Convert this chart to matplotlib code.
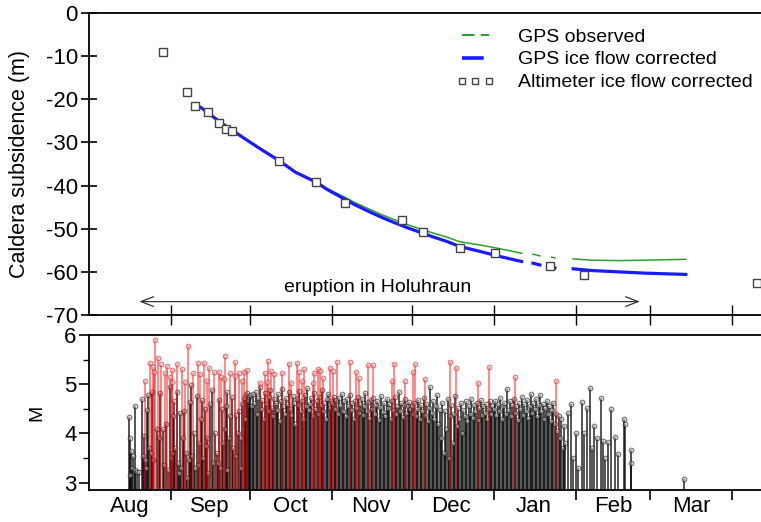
#!/usr/bin/env python3
"""
Caldera subsidence and earthquake magnitudes, Aug 2014 - Mar 2015.

Top: GPS / altimeter subsidence. Bottom: earthquake magnitudes as stems.
Days are counted from 1 Aug 2014.
"""

import matplotlib

matplotlib.use("Agg")
import matplotlib.pyplot as plt
import numpy as np
from matplotlib.lines import Line2D

plt.rcParams["font.family"] = ["Liberation Sans", "DejaVu Sans"]
plt.rcParams["axes.unicode_minus"] = False

nan = np.nan

# ---- subsidence (days since 1 Aug 2014) ----
alt_days = [28.1, 37.0, 40.1, 44.9, 49.0, 51.9, 53.9, 71.8, 85.8, 96.8,
            118.4, 126.3, 140.2, 153.4, 174.2, 187.2, 252.6]
alt_subs = [-9.0, -18.2, -21.5, -23.0, -25.4, -26.8, -27.4, -34.3, -39.2, -44.1,
            -48.0, -50.8, -54.5, -55.7, -58.6, -60.7, -62.5]

gps_days = [42.3, 50, 60, 65, 71.8, 78, 85.8, 90, 95, 100, 105, 110, 115, 120,
            125, 130, 135, 140, 148, 155, 163.5, nan, 167.8, 170.4, nan,
            174.9, 176.1, nan, 183, 190, 200, 210, 225.6]
gps_corrected = [-21.9, -25.5, -29.6, -31.6, -34.2, -36.9, -39.2, -40.9, -42.6,
                 -44.3, -45.8, -47.2, -48.5, -49.7, -50.8, -51.9, -52.9, -54.1,
                 -55.3, -56.4, -57.6, nan, -58.0, -58.4, nan, -58.9, -59.1, nan,
                 -59.3, -59.7, -60.0, -60.3, -60.6]
gps_observed = [-21.9, -25.5, -29.6, -31.6, -34.2, -36.9, -39.1, -40.7, -42.2,
                -43.8, -45.2, -46.6, -47.8, -49.0, -50.0, -51.0, -51.9, -53.0,
                -53.8, -54.6, -55.7, nan, -55.9, -56.3, nan, -56.6, -56.8, nan,
                -57.0, -57.3, -57.4, -57.3, -57.1]

eruption_start, eruption_end = 19.0, 208.2

# ---- earthquakes ----
aug_sep_days = [15.0, 15.3, 15.6, 16.0, 16.3, 16.7, 17.2, 17.5, 18.3, 18.8, 19.9,
                20.3, 20.7, 21.3, 21.6, 22.0, 22.4, 22.8, 23.3, 23.8, 24.2, 25.6,
                26.5, 27.0, 27.9, 28.3, 29.0, 29.8, 30.6, 31.0, 31.3, 31.6, 32.2,
                32.6, 33.1, 33.7, 34.0, 34.3, 34.8, 35.5, 36.0, 36.8, 37.2, 37.7,
                38.0, 38.4, 39.0, 39.6, 40.2, 40.9, 41.2, 41.5, 42.2, 42.6, 43.1,
                43.8, 44.3, 44.6, 45.0, 45.8, 46.4, 46.9, 47.6, 48.2, 48.7, 49.0,
                49.6, 50.3, 50.7, 51.4, 51.8, 52.0, 52.3, 52.8, 53.4, 53.9, 54.5,
                55.0, 55.6, 56.2, 56.6, 57.3, 57.6, 57.9, 58.4, 58.9, 59.3, 59.6,
                60.0, 60.4, 60.8]
aug_sep_mag = [4.33, 3.15, 3.90, 3.65, 3.30, 3.55, 4.55, 3.25, 3.22, 3.22, 4.70,
               3.55, 3.95, 3.45, 3.30, 4.48, 4.79, 3.70, 3.60, 4.85, 3.45, 4.10,
               3.90, 4.82, 4.08, 3.35, 4.20, 3.25, 4.95, 3.50, 3.60, 4.35, 4.66,
               3.70, 4.85, 3.40, 3.20, 4.41, 3.30, 3.90, 4.45, 3.60, 3.10, 3.45,
               4.63, 4.99, 3.55, 4.00, 3.30, 4.77, 3.35, 3.80, 4.30, 4.67, 3.50,
               4.50, 3.75, 3.90, 3.20, 4.60, 4.89, 3.40, 4.00, 3.60, 3.40, 4.68,
               3.30, 4.50, 3.80, 4.10, 4.55, 3.25, 4.85, 3.90, 4.35, 4.75, 3.70,
               3.55, 4.38, 4.00, 4.45, 3.90, 3.30, 4.60, 4.72, 4.30, 4.78, 4.82,
               4.68, 4.75, 4.55]

oct_days = [61.0, 61.5, 62.0, 62.5, 63.0, 63.5, 64.0, 64.5, 65.0, 65.5, 66.0,
            66.5, 67.0, 67.5, 68.0, 68.5, 69.0, 69.5, 70.0, 70.5, 71.0, 71.5,
            72.0, 72.5, 73.0, 73.5, 74.0, 74.5, 75.0, 75.5, 76.0, 76.5, 77.0,
            77.5, 78.0, 78.5, 79.0, 79.5, 80.0, 80.5, 81.0, 81.5, 82.0, 82.5,
            83.0, 83.5, 84.0, 84.5, 85.0, 85.5, 86.0, 86.5, 87.0, 87.5, 88.0,
            88.5, 89.0, 89.5, 90.0, 90.5, 91.0, 91.5]
oct_mag = [4.78, 4.55, 4.80, 4.62, 4.85, 4.40, 4.72, 4.95, 4.50, 4.68,
           4.30, 4.82, 4.60, 4.45, 4.75, 4.88, 4.52, 4.35, 4.70, 4.62,
           4.48, 4.80, 4.25, 4.66, 4.90, 4.55, 4.40, 4.72, 4.60, 4.84,
           4.50, 4.38, 4.76, 4.62, 4.20, 4.70, 4.58, 4.86, 4.45, 4.65,
           4.30, 4.78, 4.55, 4.92, 4.48, 4.60, 4.72, 4.35, 4.82, 4.50,
           4.66, 4.40, 4.75, 4.58, 4.88, 4.45, 4.62, 4.30, 4.70, 4.80,
           4.52, 4.65]

nov_days = [92.0, 92.5, 93.0, 93.5, 94.0, 94.5, 95.0, 95.5, 96.0, 96.5, 97.0,
            97.5, 98.0, 98.5, 99.0, 99.5, 100.0, 100.5, 101.0, 101.5, 102.0,
            102.5, 103.0, 103.5, 104.0, 104.5, 105.0, 105.5, 106.0, 106.5,
            107.0, 107.5, 108.0, 108.5, 109.0, 109.5, 110.0, 110.5, 111.0,
            111.5, 112.0, 112.5, 113.0, 113.5, 114.0, 114.5, 115.0, 115.5,
            116.0, 116.5, 117.0, 117.5, 118.0, 118.5, 119.0, 119.5, 120.0,
            120.5, 121.0, 121.5]
nov_mag = [4.62, 4.75, 4.50, 4.68, 4.40, 4.72, 4.58, 4.80, 4.45, 4.65,
           4.35, 4.70, 4.55, 4.78, 4.48, 4.62, 4.30, 4.66, 4.52, 4.74,
           4.42, 4.60, 4.70, 4.38, 4.56, 4.82, 4.46, 4.64, 4.32, 4.68,
           4.50, 4.72, 4.40, 4.58, 4.66, 4.28, 4.54, 4.76, 4.44, 4.62,
           4.36, 4.70, 4.52, 4.60, 4.30, 4.66, 4.48, 4.74, 4.40, 4.56,
           4.85, 4.46, 4.62, 4.34, 4.58, 4.70, 4.42, 4.56, 4.64, 4.50]

dec_days = [122.0, 122.5, 123.0, 123.5, 124.0, 124.5, 125.0, 125.5, 126.0,
            126.5, 127.0, 127.5, 128.0, 128.5, 129.0, 129.5, 130.0, 130.5,
            131.0, 131.5, 132.0, 132.5, 133.0, 133.5, 134.0, 134.5, 135.0,
            135.5, 136.0, 136.5, 137.0, 137.5, 138.0, 138.5, 139.0, 139.5,
            140.0, 140.5, 141.0, 141.5, 142.0, 142.5, 143.0, 143.5, 144.0,
            144.5, 145.0, 145.5, 146.0, 146.5, 147.0, 147.5, 148.0, 148.5,
            149.0, 149.5, 150.0, 150.5, 151.0, 151.5, 152.0, 152.5]
dec_mag = [4.55, 4.40, 4.62, 4.35, 4.50, 4.68, 4.30, 4.58, 4.45, 4.72,
           4.38, 4.60, 4.25, 4.52, 4.94, 4.42, 4.65, 4.30, 4.55, 4.79,
           4.20, 4.48, 3.90, 4.62, 3.60, 4.45, 4.10, 4.70, 3.50, 4.35,
           4.58, 3.80, 4.40, 4.77, 4.15, 4.52, 4.30, 4.62, 4.00, 4.48,
           4.35, 4.65, 4.25, 4.55, 4.40, 4.70, 4.32, 4.58, 4.45, 4.62,
           4.28, 4.52, 4.68, 4.38, 4.55, 4.42, 4.60, 4.30, 4.50, 4.65,
           4.40, 4.56]

jan_days = [153.0, 153.5, 154.0, 154.5, 155.0, 155.5, 156.0, 156.5, 157.0,
            157.5, 158.0, 158.5, 159.0, 159.5, 160.0, 160.5, 161.0, 161.5,
            162.0, 162.5, 163.0, 163.5, 164.0, 164.5, 165.0, 165.5, 166.0,
            166.5, 167.0, 167.5, 168.0, 168.5, 169.0, 169.5, 170.0, 170.5,
            171.0, 171.5, 172.0, 172.5, 173.0, 173.5, 174.0, 174.5, 175.0,
            175.5, 176.0, 176.5, 177.0, 177.5, 178.0, 178.5, 179.0, 179.5]
jan_mag = [4.50, 4.66, 4.38, 4.60, 4.45, 4.72, 4.30, 4.55, 4.62, 4.40,
           4.91, 4.48, 4.65, 4.35, 4.58, 4.70, 4.42, 4.55, 4.28, 4.62,
           4.50, 4.75, 4.38, 4.60, 4.45, 4.68, 4.32, 4.55, 4.80, 4.42,
           4.62, 4.50, 4.70, 4.35, 4.58, 4.78, 4.45, 4.60, 4.30, 4.52,
           4.66, 4.40, 4.55, 4.25, 4.48, 4.62, 4.20, 4.40, 4.05, 4.35,
           3.90, 4.30, 3.70, 4.15]

feb_mar_days = [180.0, 181.2, 182.2, 183.0, 184.0, 185.0, 186.2, 187.0, 188.3,
                189.5, 190.3, 191.0, 192.0, 193.5, 194.3, 195.0, 196.0, 197.2,
                198.8, 199.8, 202.2, 202.6, 204.8, 205.0, 225.0]
feb_mar_mag = [3.80, 4.41, 4.60, 3.50, 4.00, 3.30, 4.64, 4.00, 4.52, 4.93,
               3.70, 4.15, 3.90, 4.73, 3.85, 3.50, 3.82, 4.50, 3.93, 3.59,
               4.30, 4.20, 3.67, 3.40, 3.08]

# events of magnitude 5 and above (drawn in red)
big_days = [21.0, 23.1, 24.0, 24.5, 25.1, 26.1, 27.3, 28.6, 29.3, 30.6, 31.2,
            31.5, 33.4, 35.1, 36.4, 37.4, 39.2, 41.0, 42.0, 43.5, 44.7, 45.4,
            47.2, 49.0, 49.9, 50.9, 51.5, 53.3, 55.0, 55.2, 56.8, 57.8, 58.5,
            59.8, 64.6, 66.5, 67.2, 67.5, 68.8, 70.0, 72.8, 75.5, 76.2, 78.5,
            79.3, 80.6, 81.4, 84.5, 85.0, 86.4, 87.3, 88.3, 91.2, 92.1, 93.8,
            98.5, 101.0, 102.0, 105.6, 107.2, 114.4, 115.4, 119.3, 122.6,
            123.2, 127.0, 136.4, 138.7, 147.0, 151.0, 160.9, 176.5]
big_mag = [5.07, 5.43, 5.34, 5.24, 5.90, 5.53, 5.41, 5.22, 5.38, 5.14, 5.05,
           5.29, 5.41, 5.31, 5.05, 5.78, 5.22, 5.43, 5.20, 5.43, 5.07, 5.33,
           5.24, 5.24, 5.14, 5.10, 5.57, 5.22, 5.16, 5.45, 5.22, 5.07, 5.24,
           5.29, 5.02, 5.22, 5.05, 5.47, 5.26, 5.20, 5.22, 5.41, 5.03, 5.43,
           5.25, 5.06, 5.31, 5.03, 5.22, 5.31, 5.27, 5.12, 5.32, 5.27, 5.45,
           5.45, 5.25, 5.12, 5.39, 5.39, 5.07, 5.41, 5.07, 5.25, 5.42, 5.10,
           5.45, 5.33, 5.03, 5.34, 5.14, 5.07]

month_starts = [31, 61, 92, 122, 153, 184, 212, 243]
month_mids = [15.5, 45.5, 76, 106.5, 137, 168, 198, 227.5]
month_names = ["Aug", "Sep", "Oct", "Nov", "Dec", "Jan", "Feb", "Mar"]

M_FLOOR = 2.85
X_MAX = 254


def draw_quakes(ax, days, mags, color, alpha):
    ax.vlines(days, M_FLOOR, mags, colors=color, alpha=alpha, linewidth=1.3)
    ax.plot(days, mags, "o", ms=3.4, mfc=(0.75, 0.75, 0.75, 0.4), mec=color,
            mew=0.7, alpha=0.55, linestyle="none")


def main() -> int:
    fig = plt.figure(figsize=(7.61, 5.22), dpi=100)
    ax1 = fig.add_axes([0.117, 0.3966, 0.883, 0.5785])
    ax2 = fig.add_axes([0.117, 0.0613, 0.883, 0.2969])

    green = "#2ca02c"
    blue = "#1a1aff"

    # subsidence panel
    ax1.plot(gps_days, gps_observed, color=green, lw=1.1)
    ax1.plot(gps_days, gps_corrected, color=blue, lw=2.3)
    ax1.plot(alt_days, alt_subs, "s", ms=6, mfc="white", mec="#444444",
             mew=1.0, linestyle="none", clip_on=False)

    ax1.annotate("", xy=(eruption_start, -66.9), xytext=(eruption_end, -66.9),
                 arrowprops=dict(arrowstyle="<->,head_length=0.9,head_width=0.35",
                                 color="#333333", lw=0.9, shrinkA=0, shrinkB=0))
    ax1.text(109.2, -65.6, "eruption in Holuhraun", ha="center", va="bottom",
             fontsize=14)

    ax1.set_xlim(0, X_MAX)
    ax1.set_ylim(-70, 0)
    ax1.set_yticks(range(0, -71, -10))
    ax1.set_xticks(month_starts)
    ax1.set_xticklabels([])
    ax1.tick_params(axis="y", direction="inout", length=12, width=1.2,
                    labelsize=16, pad=2)
    ax1.tick_params(axis="x", direction="inout", length=14, width=1.0)
    ax1.set_ylabel("Caldera subsidence (m)", fontsize=15.5)
    ax1.yaxis.set_label_coords(-0.088, 0.5)
    ax1.spines["right"].set_visible(False)
    for side in ("left", "bottom", "top"):
        ax1.spines[side].set_linewidth(1.3)

    handles = [
        Line2D([], [], color=green, lw=1.5, dashes=(6, 3)),
        Line2D([], [], color=blue, lw=2.6, dashes=(6, 2.5)),
        Line2D([], [], marker="s", ms=5, mfc="white", mec="#444444",
               mew=1.0, linestyle="none"),
    ]
    labels = ["GPS observed", "GPS ice flow corrected",
              "Altimeter ice flow corrected"]
    fig.legend(handles, labels, loc="upper left",
               bbox_to_anchor=(456 / 761, 1 - 28 / 522), frameon=False,
               fontsize=14, labelspacing=0.27, handlelength=2.0,
               handletextpad=1.2, borderpad=0, borderaxespad=0, numpoints=3)

    # earthquake panel
    groups = [(aug_sep_days, aug_sep_mag), (oct_days, oct_mag),
              (nov_days, nov_mag), (dec_days, dec_mag),
              (jan_days, jan_mag), (feb_mar_days, feb_mar_mag)]
    for days, mags in groups:
        draw_quakes(ax2, days, mags, "black", 0.72)
    draw_quakes(ax2, big_days, big_mag, "red", 0.5)

    ax2.set_xlim(0, X_MAX)
    ax2.set_ylim(M_FLOOR, 6)
    ax2.set_yticks([3, 4, 5, 6])
    ax2.set_yticks([3.5, 4.5, 5.5], minor=True)
    ax2.set_xticks(month_starts)
    ax2.set_xticklabels([])
    ax2.set_xticks(month_mids, minor=True)
    ax2.set_xticklabels(month_names, minor=True)
    ax2.tick_params(axis="y", which="major", direction="out", length=7,
                    width=1.2, labelsize=16, pad=2)
    ax2.tick_params(axis="y", which="minor", direction="out", length=4,
                    width=1.0)
    ax2.tick_params(axis="x", which="major", direction="out", length=7,
                    width=1.2)
    ax2.tick_params(axis="x", which="minor", length=0, labelsize=16, pad=4)
    ax2.set_ylabel("M", fontsize=14)
    ax2.yaxis.set_label_coords(-0.065, 0.5)
    ax2.spines["right"].set_visible(False)
    for side in ("left", "bottom", "top"):
        ax2.spines[side].set_linewidth(1.3)

    fig.savefig("out.png", dpi=100)
    plt.close(fig)
    return 0


if __name__ == "__main__":
    raise SystemExit(main())
